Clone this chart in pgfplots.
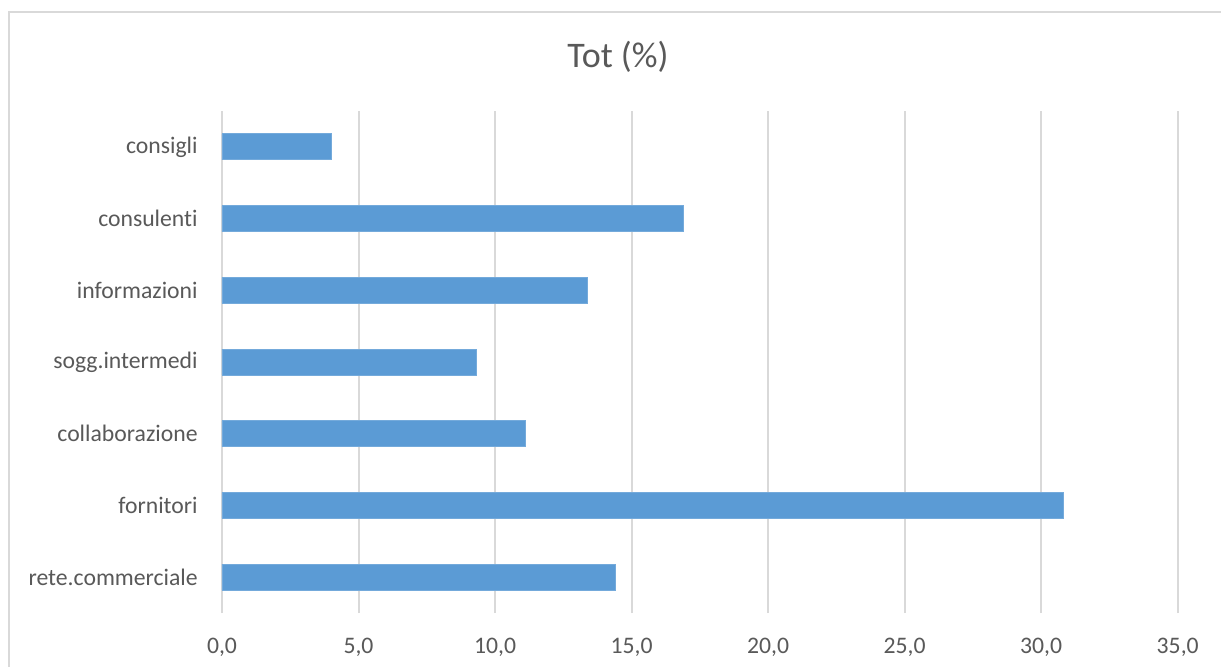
\documentclass[border=0pt]{standalone}
\usepackage{fontspec}
\setmainfont{Carlito}[Ligatures={NoCommon}]
\usepackage{pgfplots}
\pgfplotsset{compat=1.18}
\definecolor{barblue}{HTML}{5B9BD5}
\definecolor{gridgray}{HTML}{D9D9D9}
\definecolor{txtgray}{HTML}{595959}
\begin{document}
\begin{tikzpicture}
\useasboundingbox (0,0) rectangle (610.5pt,333pt);
\fill[white] (0,0) rectangle (610.5pt,333pt);
\draw[gridgray, line width=0.8pt] (4.5pt,-5pt) -- (4.5pt,327pt) -- (620pt,327pt);
\node[txtgray, font=\fontsize{18}{21}\selectfont] at (309pt,304.5pt) {Tot (\%)};
\begin{axis}[
  at={(111pt,26.5pt)}, anchor=south west,
  scale only axis,
  width=477.85pt, height=251pt,
  xbar, bar width=13pt,
  xmin=0, xmax=35, ymin=-0.5, ymax=6.5,
  xtick={0,5,...,35},
  ytick={0,1,2,3,4,5,6},
  yticklabels={rete.commerciale,fornitori,collaborazione,sogg.intermedi,informazioni,consulenti,consigli},
  major tick length=0pt,
  axis line style={draw=none},
  xmajorgrids, grid style={gridgray, line width=1pt},
  ymajorgrids=false,
  /pgf/number format/assume math mode=true,
  xticklabel={\pgfmathprintnumber[fixed,fixed zerofill,precision=1,use comma]{\tick}},
  xticklabel style={anchor=base, yshift=-20pt, inner sep=0pt},
  yticklabel style={anchor=east, inner sep=0pt, xshift=-12pt},
  tick label style={txtgray, font=\fontsize{11.85}{14}\selectfont},
]
\addplot[fill=barblue, draw=barblue!85!white, line width=0.4pt] coordinates {
  (14.4,0) (30.8,1) (11.1,2) (9.3,3) (13.4,4) (16.9,5) (4.0,6)
};
\end{axis}
\end{tikzpicture}
\end{document}
